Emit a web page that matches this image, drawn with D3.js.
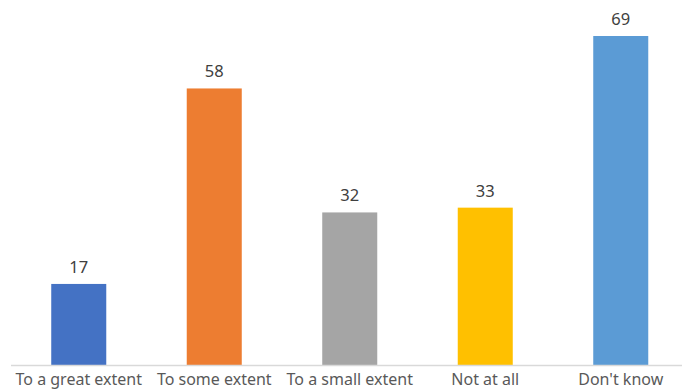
<!DOCTYPE html>
<html>
<head>
<meta charset="utf-8">
<script src="https://cdn.jsdelivr.net/npm/d3@7"></script>
<style>
  html, body { margin: 0; padding: 0; background: #fff; }
  svg { display: block; }
</style>
</head>
<body>
<svg id="chart" width="682" height="392"></svg>
<script>
const categories = ["To a great extent", "To some extent", "To a small extent", "Not at all", "Don't know"];
const values = [17, 58, 32, 33, 69];
const colors = ["#4472c4", "#ed7d31", "#a5a5a5", "#ffc000", "#5b9bd5"];

const svg = d3.select("#chart");
const baseY = 365;

const x = d3.scaleBand()
  .domain(categories)
  .range([11, 688.5])
  .paddingInner(0.594)
  .paddingOuter(0.297);

const y = d3.scaleLinear()
  .domain([0, 70])
  .range([baseY, baseY - 70 * 4.768]);

const font = "'Noto Sans', 'Open Sans', sans-serif";

svg.selectAll("rect.bar")
  .data(values)
  .join("rect")
  .attr("class", "bar")
  .attr("x", (d, i) => x(categories[i]))
  .attr("width", x.bandwidth())
  .attr("y", d => y(d))
  .attr("height", d => y(0) - y(d))
  .attr("fill", (d, i) => colors[i]);

// category axis along the baseline
const axis = svg.append("g")
  .attr("transform", `translate(0,${baseY + 0.5})`)
  .call(d3.axisBottom(x).tickSize(0).tickPadding(8));
axis.select(".domain").attr("stroke", "#d9d9d9").attr("stroke-width", 1.5)
  .attr("d", "M11,0H682");
axis.selectAll("text")
  .attr("fill", "#595959")
  .style("font-family", font)
  .style("font-size", "16px");

// value labels above each bar
svg.selectAll("text.val")
  .data(values)
  .join("text")
  .attr("class", "val")
  .attr("x", (d, i) => x(categories[i]) + x.bandwidth() / 2)
  .attr("y", d => y(d) - 11)
  .attr("text-anchor", "middle")
  .attr("fill", "#404040")
  .style("font-family", font)
  .style("font-size", "16.5px")
  .text(d => d);
</script>
</body>
</html>
